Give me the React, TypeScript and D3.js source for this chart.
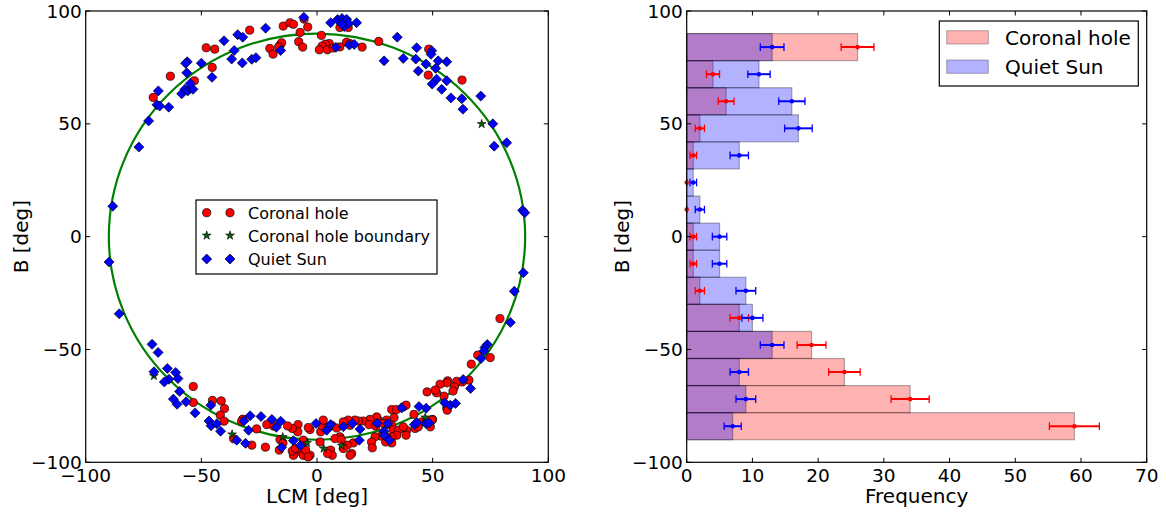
import React from 'react';
import * as d3 from 'd3';

// scatter data: [LCM deg, B deg]
const coronalHole: [number, number][] = [
  [-70.8, 61.7], [-63.4, 71.1], [-53.0, 69.1], [-47.9, 83.7], [-44.2, 83.1], [-45.3, 75.0], [-29.1, 91.5],
  [-20.4, 83.4], [-19.0, 80.9], [-15.9, 84.9], [-15.3, 85.9], [-16.6, 84.1], [-14.6, 93.3], [-11.7, 94.8],
  [-10.2, 94.1], [-7.3, 90.5], [-7.9, 86.4], [-6.2, 84.0], [-4.0, 92.9], [-5.6, 96.4], [1.9, 89.2], [5.3, 85.6],
  [3.6, 85.3], [2.2, 84.4], [1.0, 82.8], [4.5, 82.8], [7.0, 83.6], [9.9, 84.1], [12.8, 86.2], [14.3, 85.5],
  [19.5, 84.0], [26.7, 86.5], [9.9, 92.7], [13.5, 92.7], [48.3, 83.1], [48.1, 71.6], [62.7, 69.4],
  [79.1, -36.3], [74.9, -53.6], [69.5, -52.5], [66.7, -56.5],
  [65.7, -63.6], [62.8, -64.4], [60.4, -64.1], [56.5, -63.9], [56.2, -64.8], [59.4, -66.6], [58.8, -68.4],
  [53.2, -65.4], [54.9, -70.7], [51.7, -69.2], [51.1, -68.0], [47.6, -68.8], [56.1, -75.9], [56.3, -76.9],
  [32.3, -76.6], [34.4, -76.6], [37.3, -75.5], [38.5, -74.7], [41.9, -78.8], [42.4, -85.0], [50.0, -81.0],
  [45.3, -82.1], [43.8, -84.3], [49.0, -84.3], [49.6, -81.3], [33.3, -80.2], [30.1, -81.3], [26.5, -81.3],
  [25.8, -79.9], [22.9, -81.0], [20.0, -81.7], [17.9, -81.7], [16.4, -81.3], [14.3, -83.6], [13.5, -81.3],
  [11.4, -82.1], [22.5, -83.3], [25.4, -84.0], [28.7, -82.8], [32.3, -83.6], [33.0, -85.5], [35.1, -85.8],
  [38.8, -85.8], [38.5, -88.0], [37.3, -84.3], [34.5, -88.0], [32.3, -88.7], [30.1, -88.7], [27.7, -88.4],
  [25.1, -88.7], [23.6, -91.0], [23.9, -93.6], [29.7, -91.0], [32.3, -91.4], [15.7, -91.4], [13.1, -92.4],
  [15.0, -96.1], [14.3, -96.9], [9.9, -88.7], [7.8, -89.5], [10.5, -89.9], [11.4, -93.9], [5.9, -94.6],
  [6.6, -96.9], [4.6, -96.1], [1.6, -86.5], [2.2, -83.7], [1.3, -91.0], [2.7, -81.3], [4.9, -84.3],
  [6.4, -83.6], [8.5, -84.8],
  [-3.0, -85.5], [-3.8, -84.6], [-5.5, -91.0], [-5.9, -90.2], [-7.3, -94.3], [-5.9, -96.9], [-3.0, -96.9],
  [-4.9, -94.6], [-3.8, -97.6], [-9.5, -95.8], [-10.2, -96.9], [-10.7, -95.0], [-8.2, -83.3], [-8.3, -86.5],
  [-10.7, -85.0], [-12.7, -83.9], [-21.7, -83.3], [-18.7, -84.0], [-26.1, -85.2], [-28.2, -92.4],
  [-22.3, -93.3], [-16.0, -89.9], [-16.3, -94.6], [-14.7, -91.4], [-9.4, -93.8], [-32.1, -80.9],
  [-32.6, -81.8], [-36.0, -89.6], [-45.2, -72.6], [-41.4, -72.8], [-40.0, -76.2], [-41.8, -79.1],
  [-40.2, -81.8], [-53.5, -66.4], [-53.5, -73.5],
];

const boundary: [number, number][] = [
  [71.2, 49.9], [-70.5, -61.7], [-36.7, -87.6], [-14.8, -88.8], [-4.3, -91.4], [2.9, -93.9], [10.7, -92.6],
  [46.8, -80.1],
];

const quietSun: [number, number][] = [
  [-77.0, 39.7], [-72.8, 51.3], [-68.6, 64.6], [-69.2, 58.4], [-68.0, 57.9], [-64.1, 57.4], [-58.5, 63.3],
  [-57.1, 65.3], [-55.9, 64.6], [-54.6, 65.8], [-53.6, 65.3], [-54.8, 67.9], [-56.3, 72.6], [-56.1, 77.5],
  [-56.8, 76.8], [-50.0, 76.9], [-45.4, 70.6], [-40.2, 86.8], [-36.9, 78.7], [-35.8, 82.5], [-32.3, 77.0],
  [-34.3, 89.5], [-32.1, 88.4], [-28.2, 78.6], [-26.4, 79.3], [-22.2, 92.4], [-15.7, 82.5],
  [-5.7, 97.2], [5.9, 94.8], [8.9, 96.2], [10.8, 96.7], [12.8, 96.3], [11.8, 93.1], [13.7, 94.5],
  [10.7, 94.2], [17.1, 94.8], [8.2, 83.9], [14.0, 84.9], [16.1, 85.2], [34.7, 88.4], [29.0, 77.9],
  [37.3, 79.0], [43.1, 83.7], [42.7, 78.7], [47.1, 76.5], [49.6, 82.4], [49.3, 80.8], [52.4, 77.9],
  [56.1, 77.5], [43.8, 73.4], [51.3, 74.6], [56.1, 69.1], [51.7, 69.8], [49.8, 67.6], [53.9, 65.3],
  [57.9, 61.5], [62.6, 61.1], [63.1, 56.5], [70.8, 62.3], [76.0, 50.0], [76.6, 40.1], [82.0, 41.6],
  [88.9, 11.7], [89.8, 10.6], [89.2, -16.0], [85.3, -24.2], [83.6, -38.0], [73.6, -47.8], [72.6, -49.1],
  [72.2, -50.6], [70.9, -54.0],
  [63.2, -63.3], [66.4, -67.3], [55.2, -73.6], [57.6, -74.7], [59.9, -73.9], [44.1, -75.3], [47.2, -76.0],
  [36.6, -75.9], [42.1, -83.3], [43.2, -82.4], [47.1, -82.8], [48.5, -82.6], [26.0, -82.7], [30.6, -82.8],
  [29.0, -86.2], [29.1, -88.0], [31.3, -90.2], [18.3, -90.2], [11.4, -84.2], [15.3, -82.8], [18.6, -85.3],
  [-0.4, -82.8], [4.2, -85.8], [5.9, -83.3],
  [-7.2, -92.6], [-10.2, -90.4], [-15.3, -93.4], [-19.5, -81.0], [-17.6, -84.5], [-15.7, -81.8],
  [-24.2, -79.7], [-28.9, -79.4], [-31.6, -81.7], [-29.6, -85.8], [-34.7, -90.2], [-30.9, -91.6],
  [-45.9, -74.7], [-46.7, -81.7], [-45.8, -83.8], [-43.3, -82.9], [-41.7, -86.2], [-52.7, -78.1],
  [-56.6, -73.2], [-59.4, -68.6], [-62.1, -72.0], [-60.5, -74.3], [-64.0, -63.2], [-66.0, -64.4],
  [-61.1, -60.2], [-60.1, -62.9], [-64.7, -58.4], [-70.5, -59.9], [-68.7, -51.3], [-71.3, -47.7],
  [-85.5, -34.2], [-89.9, -11.2], [-88.3, 13.5],
];

// histogram, bins from bottom to top
const binStarts = [-90, -78, -66, -54, -42, -30, -18, -6, 6, 18, 30, 42, 54, 66, 78];
const binWidth = 12;
const chCounts = [59, 34, 24, 19, 8, 2, 1, 1, 0, 0, 1, 2, 6, 4, 26];
const qsCounts = [7, 9, 8, 13, 10, 9, 5, 5, 2, 1, 8, 17, 16, 11, 13];
const chErr = [3.8, 2.9, 2.4, 2.2, 1.4, 0.7, 0.5, 0.5, 0, 0, 0.5, 0.7, 1.2, 1.0, 2.5];
const qsErr = [1.3, 1.5, 1.4, 1.8, 1.6, 1.5, 1.1, 1.1, 0.7, 0.5, 1.4, 2.1, 2.0, 1.7, 1.8];

const degTicks = [-100, -50, 0, 50, 100];
const freqTicks = [0, 10, 20, 30, 40, 50, 60, 70];

const FONT = "'DejaVu Sans', sans-serif";
const fmt = (v: number) => (v < 0 ? '\u2212' + Math.abs(v) : String(v));

const xL = d3.scaleLinear().domain([-100, 100]).range([85.7, 548.3]);
const yS = d3.scaleLinear().domain([-100, 100]).range([462.3, 11]);
const xR = d3.scaleLinear().domain([0, 70]).range([686.7, 1146.7]);

const star = d3.symbol().type(d3.symbolStar).size(24);
const DR = 5; // diamond half diagonal
const CR = 4.1; // circle radius

function diamond(cx: number, cy: number, r: number) {
  return `M${cx},${cy - r}L${cx + r},${cy}L${cx},${cy + r}L${cx - r},${cy}Z`;
}

function Axes({ x, y, xticks, yticks }: any) {
  const [x0, x1] = x.range();
  const [y0, y1] = y.range();
  const tl = 4.5;
  return (
    <g>
      <rect x={x0} y={y1} width={x1 - x0} height={y0 - y1} fill="none" stroke="#000" strokeWidth={1.2} />
      {xticks.map((t: number) => (
        <g key={'x' + t}>
          <line x1={x(t)} x2={x(t)} y1={y0} y2={y0 - tl} stroke="#000" />
          <line x1={x(t)} x2={x(t)} y1={y1} y2={y1 + tl} stroke="#000" />
          <text x={x(t)} y={y0 + 20} textAnchor="middle" fontSize={18.5} fontFamily={FONT}>{fmt(t)}</text>
        </g>
      ))}
      {yticks.map((t: number) => (
        <g key={'y' + t}>
          <line x1={x0} x2={x0 + tl} y1={y(t)} y2={y(t)} stroke="#000" />
          <line x1={x1} x2={x1 - tl} y1={y(t)} y2={y(t)} stroke="#000" />
          <text x={x0 - 4} y={y(t)} dy="0.36em" textAnchor="end" fontSize={18.5} fontFamily={FONT}>{fmt(t)}</text>
        </g>
      ))}
    </g>
  );
}

export default function App() {
  const rx = xL(90) - xL(0);
  const ry = yS(0) - yS(90);
  const bh = (s: number) => yS(s) - yS(s + binWidth);
  return (
    <svg width={1166} height={512} style={{ position: 'absolute', left: 0, top: 0, background: '#fff' }}>
      {/* left panel */}
      <ellipse cx={xL(0)} cy={yS(0)} rx={rx} ry={ry} fill="none" stroke="#008000" strokeWidth={2.2} />
      {coronalHole.map((d, i) => (
        <circle key={'c' + i} cx={xL(d[0])} cy={yS(d[1])} r={CR} fill="#ff0000" stroke="#000" strokeWidth={0.7} />
      ))}
      {boundary.map((d, i) => (
        <path key={'s' + i} d={star()!} transform={`translate(${xL(d[0])},${yS(d[1])})`} fill="#0b5d0b" stroke="#000" strokeWidth={0.6} />
      ))}
      {quietSun.map((d, i) => (
        <path key={'q' + i} d={diamond(xL(d[0]), yS(d[1]), DR)} fill="#0000ff" stroke="#000" strokeWidth={0.7} />
      ))}
      <Axes x={xL} y={yS} xticks={degTicks} yticks={degTicks} />
      <g fontFamily={FONT} fontSize={16}>
        <rect x={196} y={200} width={241} height={74} fill="#fff" stroke="#000" strokeWidth={1.2} />
        <circle cx={206.7} cy={212.7} r={CR} fill="#ff0000" stroke="#000" strokeWidth={0.7} />
        <circle cx={230} cy={212.7} r={CR} fill="#ff0000" stroke="#000" strokeWidth={0.7} />
        <text x={248} y={218.5}>Coronal hole</text>
        <path d={star()!} transform="translate(206.7,235.5)" fill="#0b5d0b" stroke="#000" strokeWidth={0.6} />
        <path d={star()!} transform="translate(230,235.5)" fill="#0b5d0b" stroke="#000" strokeWidth={0.6} />
        <text x={248} y={241.5}>Coronal hole boundary</text>
        <path d={diamond(206.7, 259, DR)} fill="#0000ff" stroke="#000" strokeWidth={0.7} />
        <path d={diamond(230, 259, DR)} fill="#0000ff" stroke="#000" strokeWidth={0.7} />
        <text x={248} y={265}>Quiet Sun</text>
      </g>
      <text x={317} y={503} textAnchor="middle" fontSize={20} fontFamily={FONT}>LCM [deg]</text>
      <text transform={`translate(28,${yS(0)}) rotate(-90)`} textAnchor="middle" fontSize={20} fontFamily={FONT}>B [deg]</text>

      {/* right panel */}
      {binStarts.map((s, i) => (
        <rect key={'ch' + i} x={xR(0)} y={yS(s + binWidth)} width={xR(chCounts[i]) - xR(0)} height={bh(s)}
          fill="#ff0000" fillOpacity={0.3} stroke="#000" strokeOpacity={0.3} strokeWidth={1.2} />
      ))}
      {binStarts.map((s, i) => (
        <rect key={'qs' + i} x={xR(0)} y={yS(s + binWidth)} width={xR(qsCounts[i]) - xR(0)} height={bh(s)}
          fill="#0000ff" fillOpacity={0.3} stroke="#000" strokeOpacity={0.3} strokeWidth={1.2} />
      ))}
      {[{ c: chCounts, e: chErr, col: '#ff0000' }, { c: qsCounts, e: qsErr, col: '#0000ff' }].map((sr, k) => (
        <g key={'err' + k} stroke={sr.col} fill={sr.col}>
          {binStarts.map((s, i) => {
            const cy = yS(s + binWidth / 2);
            const a = xR(Math.max(0, sr.c[i] - sr.e[i]));
            const b = xR(sr.c[i] + sr.e[i]);
            return (
              <g key={i}>
                <line x1={a} x2={b} y1={cy} y2={cy} strokeWidth={2} />
                <line x1={a} x2={a} y1={cy - 3.8} y2={cy + 3.8} strokeWidth={1.3} />
                <line x1={b} x2={b} y1={cy - 3.8} y2={cy + 3.8} strokeWidth={1.3} />
                <circle cx={xR(sr.c[i])} cy={cy} r={2.3} stroke="none" />
              </g>
            );
          })}
        </g>
      ))}
      <Axes x={xR} y={yS} xticks={freqTicks} yticks={degTicks} />
      <g fontFamily={FONT} fontSize={20}>
        <rect x={939.3} y={21} width={199} height={65} fill="#fff" stroke="#000" strokeWidth={1.2} />
        <rect x={946.7} y={30.7} width={41.6} height={13.3} fill="#ff0000" fillOpacity={0.3} stroke="#000" strokeOpacity={0.3} />
        <text x={1005} y={44.5}>Coronal hole</text>
        <rect x={946.7} y={60} width={41.6} height={13.3} fill="#0000ff" fillOpacity={0.3} stroke="#000" strokeOpacity={0.3} />
        <text x={1005} y={74}>Quiet Sun</text>
      </g>
      <text x={xR(35)} y={503} textAnchor="middle" fontSize={20} fontFamily={FONT}>Frequency</text>
      <text transform={`translate(629,${yS(0)}) rotate(-90)`} textAnchor="middle" fontSize={20} fontFamily={FONT}>B [deg]</text>
    </svg>
  );
}
